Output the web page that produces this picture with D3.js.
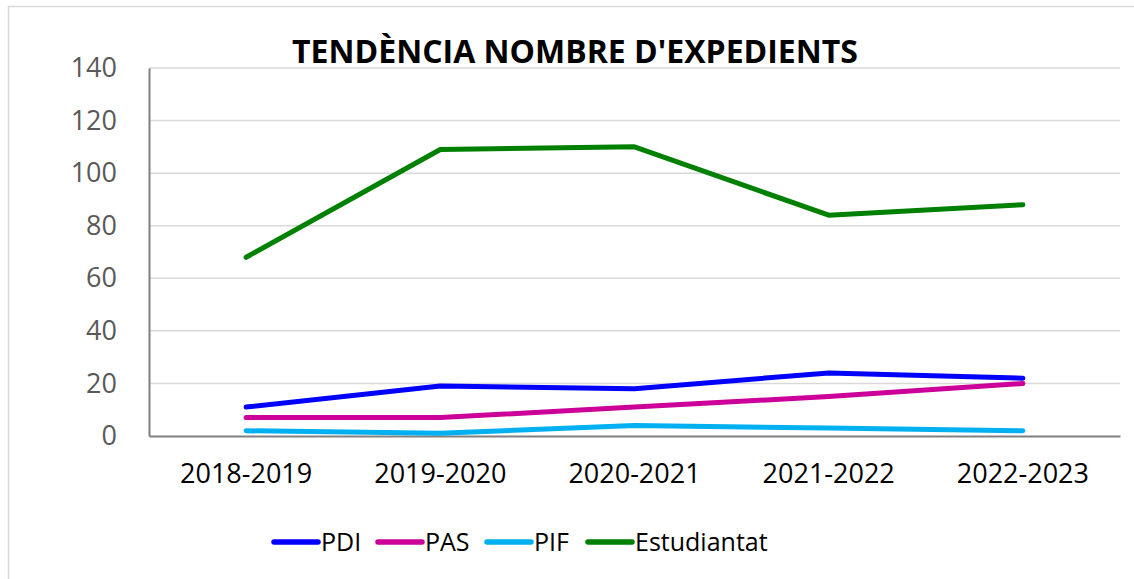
<!DOCTYPE html>
<html>
<head>
<meta charset="utf-8">
<script src="https://cdn.jsdelivr.net/npm/d3@7"></script>
<style>
  body { margin: 0; background: #fff; }
  svg { display: block; font-family: "Open Sans", "Noto Sans", sans-serif; }
</style>
</head>
<body>
<svg id="chart" width="1134" height="579"></svg>
<script>
// dades
var cursos = ["2018-2019", "2019-2020", "2020-2021", "2021-2022", "2022-2023"];
var pdi = [11, 19, 18, 24, 22];
var pas = [7, 7, 11, 15, 20];
var pif = [2, 1, 4, 3, 2];
var estudiantat = [68, 109, 110, 84, 88];
var yTicks = [0, 20, 40, 60, 80, 100, 120, 140];

var series = [
  { name: "PDI", values: pdi, color: "#0000ff" },
  { name: "PAS", values: pas, color: "#cc0099" },
  { name: "PIF", values: pif, color: "#00b0f0" },
  { name: "Estudiantat", values: estudiantat, color: "#008000" }
];

var svg = d3.select("#chart");

// marc exterior
svg.append("rect")
  .attr("x", 8.5).attr("y", 6.5)
  .attr("width", 1140).attr("height", 600)
  .attr("fill", "none")
  .attr("stroke", "#d9d9d9")
  .attr("stroke-width", 1.5);

var plotLeft = 149, plotRight = 1120, plotTop = 68, plotBottom = 436;

var x = d3.scaleBand().domain(cursos).range([plotLeft, plotRight]);
var y = d3.scaleLinear().domain([0, 140]).range([plotBottom, plotTop]);

// graella
svg.append("g")
  .selectAll("line")
  .data(yTicks.filter(function(d) { return d > 0; }))
  .join("line")
  .attr("x1", plotLeft).attr("x2", plotRight)
  .attr("y1", function(d) { return y(d); })
  .attr("y2", function(d) { return y(d); })
  .attr("stroke", "#d9d9d9")
  .attr("stroke-width", 1.5);

// eixos
var yAxis = svg.append("g")
  .attr("transform", "translate(" + plotLeft + ",0)")
  .call(d3.axisLeft(y).tickValues(yTicks).tickSize(0).tickPadding(32));
yAxis.attr("font-family", null);
yAxis.select(".domain").attr("stroke", "#808080").attr("stroke-width", 2);
yAxis.selectAll("text")
  .attr("fill", "#595959")
  .style("font-size", "27px");

var xAxis = svg.append("g")
  .attr("transform", "translate(0," + plotBottom + ")")
  .call(d3.axisBottom(x).tickSize(0).tickPadding(28));
xAxis.attr("font-family", null);
xAxis.select(".domain").attr("stroke", "#808080").attr("stroke-width", 2);
xAxis.selectAll("text")
  .attr("fill", "#000")
  .style("font-size", "27px");

// línies
var line = d3.line()
  .x(function(d, i) { return x(cursos[i]) + x.bandwidth() / 2; })
  .y(function(d) { return y(d); });

svg.append("g")
  .selectAll("path")
  .data(series)
  .join("path")
  .attr("d", function(s) { return line(s.values); })
  .attr("fill", "none")
  .attr("stroke", function(s) { return s.color; })
  .attr("stroke-width", 5)
  .attr("stroke-linecap", "round")
  .attr("stroke-linejoin", "round");

// títol
svg.append("text")
  .attr("x", 575).attr("y", 63)
  .attr("text-anchor", "middle")
  .style("font-size", "32px")
  .style("font-weight", "bold")
  .attr("fill", "#000")
  .text("TENDÈNCIA NOMBRE D'EXPEDIENTS");

// llegenda
var legendX = [274, 378, 487, 588];
var legend = svg.append("g")
  .selectAll("g")
  .data(series)
  .join("g")
  .attr("transform", function(d, i) { return "translate(" + legendX[i] + ",542)"; });
legend.append("line")
  .attr("x1", 0).attr("x2", 44)
  .attr("stroke", function(d) { return d.color; })
  .attr("stroke-width", 5.5)
  .attr("stroke-linecap", "round");
legend.append("text")
  .attr("x", 47).attr("y", 9)
  .style("font-size", "25px")
  .attr("fill", "#000")
  .text(function(d) { return d.name; });
</script>
</body>
</html>
